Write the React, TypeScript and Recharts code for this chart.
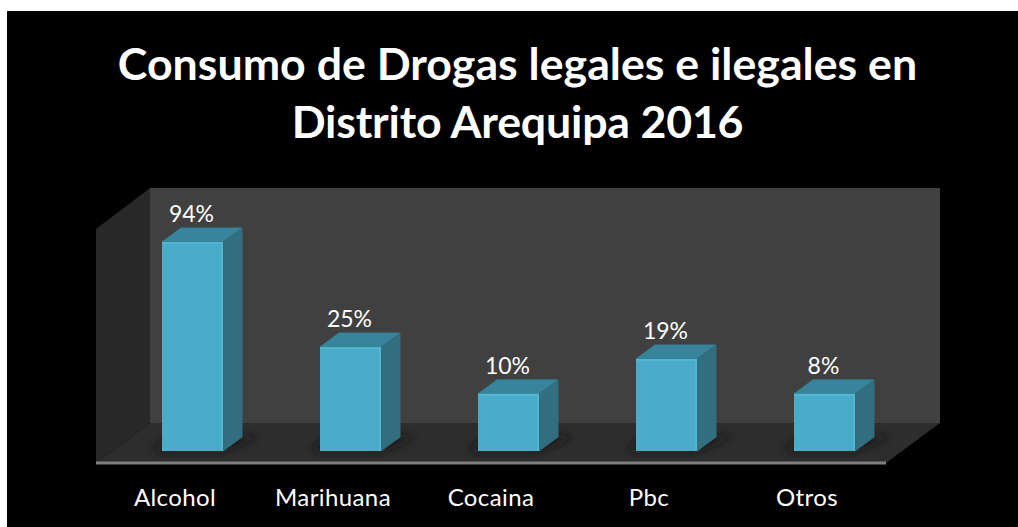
import { BarChart, Bar, XAxis, YAxis, LabelList, Customized } from "recharts";

const categories = ["Alcohol", "Marihuana", "Cocaina", "Pbc", "Otros"];
// Printed labels do not follow the drawn heights in the original chart,
// so both are kept: barHeights is read off the bars on a 0-100 axis.
const valueLabels = ["94%", "25%", "10%", "19%", "8%"];
const barHeights = [89.3, 44.4, 24.4, 39.3, 24.4];

const data = categories.map((name, i) => ({
  name,
  height: barHeights[i],
  label: valueLabels[i],
}));

const FONT = "Lato, 'Open Sans', sans-serif";
const DEPTH_X = 19;
const DEPTH_Y = 14;
// bars stand a little behind the front edge of the floor
const INSET_X = 17;
const INSET_Y = 12;

function Room() {
  return (
    <g>
      <defs>
        <filter id="floorBlur" x="-30%" y="-60%" width="160%" height="220%">
          <feGaussianBlur stdDeviation="4" />
        </filter>
      </defs>
      <rect x={150} y={188} width={790} height={235} fill="#404040" />
      <polygon points="96,229 150,188 150,423 96,463" fill="#282828" />
      <polygon points="96,463 150,423 940,423 886,463" fill="#2d2d2d" />
    </g>
  );
}

function Bar3D(props: any) {
  const { width, height } = props;
  const x = props.x + INSET_X;
  const y = props.y - INSET_Y;
  const r = x + width;
  const b = y + height;
  return (
    <g>
      <polygon
        points={`${x - 10},${b - 1} ${r},${b - 1} ${r + DEPTH_X + 16},${b - DEPTH_Y} ${x + 10},${b - DEPTH_Y}`}
        fill="#161616"
        filter="url(#floorBlur)"
      />
      <polygon
        points={`${x},${y} ${x + DEPTH_X},${y - DEPTH_Y} ${r + DEPTH_X},${y - DEPTH_Y} ${r},${y}`}
        fill="#37849b"
        stroke="#37849b"
        strokeWidth={1}
        strokeLinejoin="round"
      />
      <polygon
        points={`${r},${y} ${r + DEPTH_X},${y - DEPTH_Y} ${r + DEPTH_X},${b - DEPTH_Y} ${r},${b}`}
        fill="#306e80"
        stroke="#306e80"
        strokeWidth={1}
        strokeLinejoin="round"
      />
      <rect x={x} y={y} width={width} height={height} fill="#4aacc8" />
      <rect x={x} y={y} width={width} height={2} fill="#52b6d2" />
      <rect x={r - 2} y={y} width={2} height={height} fill="#52b6d2" />
    </g>
  );
}

function ValueLabel(props: any) {
  const { x, y, width, value } = props;
  return (
    <text
      x={x + width / 2 + INSET_X - 1}
      y={y - INSET_Y - 20}
      textAnchor="middle"
      fontFamily={FONT}
      fontSize={23}
      fill="#ffffff"
    >
      {value}
    </text>
  );
}

export default function App() {
  return (
    <div style={{ position: "absolute", left: 0, top: 0, width: 1018, height: 527, background: "#fff" }}>
      <div style={{ position: "absolute", left: 7, top: 11, width: 1011, height: 516, background: "#000" }} />
      <div
        style={{
          position: "absolute",
          left: 0,
          top: 34,
          width: 1035,
          textAlign: "center",
          color: "#fff",
          fontFamily: FONT,
          fontWeight: 700,
          fontSize: 44.7,
          lineHeight: "58px",
        }}
      >
        Consumo de Drogas legales e ilegales en
        <br />
        <span style={{ letterSpacing: -0.2 }}>Distrito Arequipa 2016</span>
      </div>
      <BarChart
        width={1018}
        height={527}
        data={data}
        margin={{ top: 229, right: 132, bottom: 0, left: 96 }}
        style={{ position: "absolute", left: 0, top: 0 }}
      >
        <Customized component={Room} />
        <XAxis
          dataKey="name"
          height={64}
          axisLine={{ stroke: "#7f7f7f", strokeWidth: 3 }}
          tickLine={false}
          tickMargin={20}
          interval={0}
          tick={{ fill: "#ffffff", fontSize: 24, fontFamily: FONT, letterSpacing: 0.4 }}
        />
        <YAxis hide domain={[0, 100]} />
        <Bar dataKey="height" barSize={61} shape={Bar3D} isAnimationActive={false}>
          <LabelList dataKey="label" content={ValueLabel} />
        </Bar>
      </BarChart>
    </div>
  );
}
